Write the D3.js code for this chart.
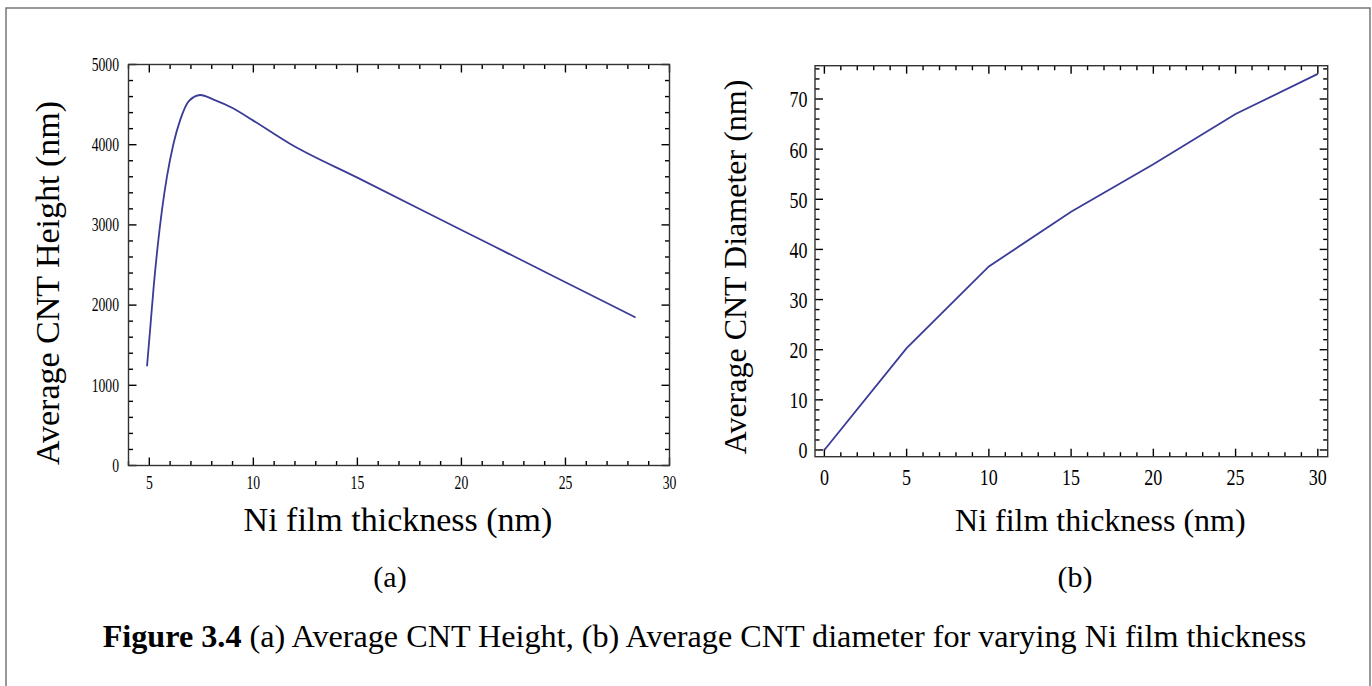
<!DOCTYPE html>
<html>
<head>
<meta charset="utf-8">
<script src="https://cdn.jsdelivr.net/npm/d3@7"></script>
<style>
  html, body { margin: 0; padding: 0; background: #fff; }
  svg { display: block; }
  text { font-family: "Liberation Serif", "Times New Roman", serif; fill: #000; }
</style>
</head>
<body>
<svg id="chart" width="1372" height="686"></svg>
<script>
// ---- Data ----
const heightThickness = [4.89, 5.05, 5.21, 5.40, 5.61, 5.85, 6.17, 6.49, 6.89, 7.45, 8.09, 9.0, 10, 11.78, 15, 20, 25, 28.37];
const heightValues    = [1237, 1729, 2229, 2729, 3188, 3604, 4021, 4313, 4541, 4620, 4563, 4458, 4300, 4009, 3589, 2937, 2285, 1846];

const diamThickness = [0, 5, 10, 15, 20, 25, 30];
const diamValues    = [0, 20.3, 36.6, 47.5, 57.0, 67.0, 75.0];

const heightXTicks = [5, 10, 15, 20, 25, 30];
const heightYTicks = [0, 1000, 2000, 3000, 4000, 5000];
const diamXTicks = [0, 5, 10, 15, 20, 25, 30];
const diamYTicks = [0, 10, 20, 30, 40, 50, 60, 70];

const svg = d3.select("#chart");
const lineColor = "#3b3b98";
const frameColor = "#333";

// outer border
svg.append("rect").attr("x", 6).attr("y", 8).attr("width", 1364).attr("height", 700)
  .attr("fill", "none").attr("stroke", "#777").attr("stroke-width", 1.5);

function drawPanel(opt) {
  const { left, top, right, bottom, xDomain, yDomain, xTicks, yTicks, xMinor, yMinor,
          xs, ys, tickFont, tickScale, xTitle, yTitle, titleFont, yTitleX, yTitleY, xTitleY, panelLabel, panelX } = opt;
  const x = d3.scaleLinear().domain(xDomain).range([left, right]);
  const y = d3.scaleLinear().domain(yDomain).range([bottom, top]);
  const g = svg.append("g");

  const majorLen = 8, minorLen = 4.5;
  const xMinorVals = d3.range(xMinor[0], xMinor[1] + 1e-9, xMinor[2]).filter(v => !xTicks.includes(v) && v >= xDomain[0] && v <= xDomain[1]);
  const yMinorVals = d3.range(yMinor[0], yMinor[1] + 1e-9, yMinor[2]).filter(v => !yTicks.includes(v) && v >= yDomain[0] && v <= yDomain[1]);

  const xTickData = xTicks.map(v => ({ v, len: majorLen })).concat(xMinorVals.map(v => ({ v, len: minorLen })));
  const yTickData = yTicks.map(v => ({ v, len: majorLen })).concat(yMinorVals.map(v => ({ v, len: minorLen })));

  const tg = g.append("g").attr("stroke", "#000").attr("stroke-width", 1.4);
  // bottom & top ticks (inward)
  tg.selectAll(null).data(xTickData).join("line")
    .attr("x1", d => x(d.v)).attr("x2", d => x(d.v)).attr("y1", bottom).attr("y2", d => bottom - d.len);
  tg.selectAll(null).data(xTickData).join("line")
    .attr("x1", d => x(d.v)).attr("x2", d => x(d.v)).attr("y1", top).attr("y2", d => top + d.len);
  // left & right ticks (inward)
  tg.selectAll(null).data(yTickData).join("line")
    .attr("y1", d => y(d.v)).attr("y2", d => y(d.v)).attr("x1", left).attr("x2", d => left + d.len);
  tg.selectAll(null).data(yTickData).join("line")
    .attr("y1", d => y(d.v)).attr("y2", d => y(d.v)).attr("x1", right).attr("x2", d => right - d.len);

  // tick labels
  g.append("g").selectAll("text").data(xTicks).join("text")
    .attr("transform", d => `translate(${x(d)},${bottom + opt.xLabelDy}) scale(${tickScale},1)`)
    .attr("text-anchor", "middle").attr("font-size", tickFont).text(d => d3.format("d")(d));
  g.append("g").selectAll("text").data(yTicks).join("text")
    .attr("transform", d => `translate(${left - opt.yLabelGap},${y(d)}) scale(${tickScale},1)`)
    .attr("text-anchor", "end").attr("dy", "0.35em").attr("font-size", tickFont).text(d => d3.format("d")(d));

  // frame
  g.append("rect").attr("x", left).attr("y", top).attr("width", right - left).attr("height", bottom - top)
    .attr("fill", "none").attr("stroke", frameColor).attr("stroke-width", 1.4);

  // line
  const pts = xs.map((v, i) => [v, ys[i]]);
  g.append("path").datum(pts)
    .attr("fill", "none").attr("stroke", lineColor).attr("stroke-width", 1.8)
    .attr("d", d3.line().x(d => x(d[0])).y(d => y(d[1])).curve(opt.curve));

  // titles
  g.append("text").attr("x", (left + right) / 2 + opt.xTitleShift).attr("y", xTitleY).attr("text-anchor", "middle")
    .attr("font-size", titleFont).text(xTitle);
  g.append("text").attr("transform", `translate(${yTitleX},${yTitleY}) rotate(-90)`).attr("text-anchor", "middle")
    .attr("font-size", titleFont).text(yTitle);
  g.append("text").attr("x", panelX).attr("y", 587).attr("text-anchor", "middle")
    .attr("font-size", 30).text(panelLabel);
}

drawPanel({
  left: 128.5, top: 64.5, right: 669.5, bottom: 465.5,
  xDomain: [4, 30], yDomain: [0, 5000], xTicks: heightXTicks, yTicks: heightYTicks,
  xMinor: [4, 30, 1], yMinor: [0, 5000, 200],
  xs: heightThickness, ys: heightValues, curve: d3.curveMonotoneX,
  tickFont: 18, tickScale: 0.76, xLabelDy: 23.5, yLabelGap: 9.5,
  xTitle: "Ni film thickness (nm)", yTitle: "Average CNT Height (nm)", titleFont: 34,
  yTitleX: 59, yTitleY: 283, xTitleY: 531, xTitleShift: -1, panelLabel: "(a)", panelX: 390
});

drawPanel({
  left: 815, top: 65.7, right: 1327.7, bottom: 456.7,
  xDomain: [-0.57, 30.6], yDomain: [-1.34, 76.64], xTicks: diamXTicks, yTicks: diamYTicks,
  xMinor: [0, 30, 1], yMinor: [0, 76, 2],
  xs: diamThickness, ys: diamValues, curve: d3.curveLinear,
  tickFont: 24, tickScale: 0.75, xLabelDy: 28.5, yLabelGap: 7.5,
  xTitle: "Ni film thickness (nm)", yTitle: "Average CNT Diameter (nm)", titleFont: 32,
  yTitleX: 746, yTitleY: 267, xTitleY: 531, xTitleShift: 29, panelLabel: "(b)", panelX: 1075
});

// caption
const cap = svg.append("text").attr("x", 704.5).attr("y", 647).attr("text-anchor", "middle").attr("font-size", 32.2);
cap.append("tspan").attr("font-weight", "bold").text("Figure 3.4");
cap.append("tspan").text(" (a) Average CNT Height, (b) Average CNT diameter for varying Ni film thickness");
</script>
</body>
</html>
